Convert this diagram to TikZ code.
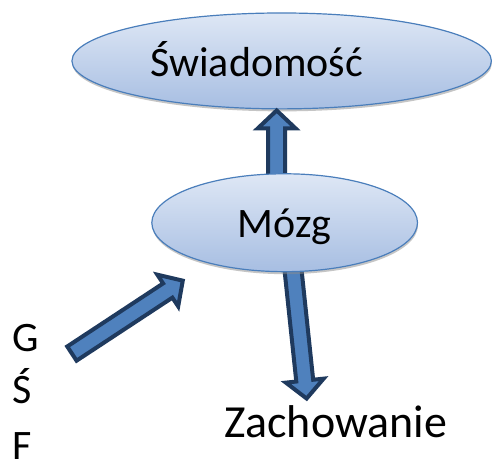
\documentclass[tikz,border=0pt]{standalone}
\usepackage{fontspec}
\setmainfont{Carlito}
\usetikzlibrary{shapes.geometric,shadows,calc,backgrounds}

\definecolor{ovalTop}{RGB}{222,231,245}
\definecolor{ovalBottom}{RGB}{167,190,226}
\definecolor{ovalLine}{RGB}{74,126,187}
\definecolor{arrowFill}{RGB}{79,129,189}
\definecolor{arrowLine}{RGB}{31,58,94}

\tikzset{
  oval/.style={ellipse, draw=ovalLine, line width=1.2pt, top color=ovalTop,
    bottom color=ovalBottom, inner sep=0pt,
    drop shadow={shadow xshift=0.5pt, shadow yshift=-2.5pt, fill=black!45}},
  blockArrow/.style={fill=arrowFill, draw=arrowLine, line width=4pt, line join=miter},
  word/.style={font=\fontsize{42}{42}\selectfont, inner sep=0pt, anchor=base},
}

% block arrow from #1 to #2
\newcommand{\blockarrow}[2]{%
  \coordinate (headBase) at ($(#2)!18pt!(#1)$);
  \draw[blockArrow] ($(#1)!8.5pt!90:(#2)$) -- ($(headBase)!8.5pt!90:(#2)$)
    -- ($(headBase)!19pt!90:(#2)$) -- (#2) -- ($(headBase)!19pt!-90:(#2)$)
    -- ($(headBase)!8.5pt!-90:(#2)$) -- ($(#1)!8.5pt!-90:(#2)$) -- cycle;}

\begin{document}
\begin{tikzpicture}[x=1pt, y=-1pt]

\node[oval, minimum width=420pt, minimum height=96pt] (swiadomosc) at (282,61) {};
\node[word] (swiadomoscText) at ([xshift=-25pt, yshift=-16pt]swiadomosc.center) {Świadomość};

\coordinate (upTip) at ([xshift=-5pt, yshift=-1pt]swiadomosc.south);
\coordinate (upTail) at (277,180);
\blockarrow{upTail}{upTip}

\node[oval, minimum width=266pt, minimum height=98pt, font=\fontsize{42}{42}\selectfont,
  text height=30pt, text depth=0pt] (mozg) at (285,223) {Mózg};

\node[word, font=\fontsize{46}{46}\selectfont] (zachowanie) at (336,438) {Zachowanie};

\node[word, anchor=base west] (g) at (12,352) {G};
\node[word, anchor=base west] (s) at (12,404) {Ś};
\node[word, anchor=base west] (f) at (12,460) {F};

\coordinate (downTail) at ([xshift=8pt, yshift=6pt]mozg.south);
\coordinate (zachTip) at (307,399);
\coordinate (gsfTail) at (72,354);
\coordinate (mozgIn) at (183,281);

\begin{scope}[on background layer]
  \fill[white] (0,0) rectangle (492,454);
  \blockarrow{downTail}{zachTip}
\end{scope}
\blockarrow{gsfTail}{mozgIn}

\useasboundingbox (0,0) rectangle (492,454);
\end{tikzpicture}
\end{document}
